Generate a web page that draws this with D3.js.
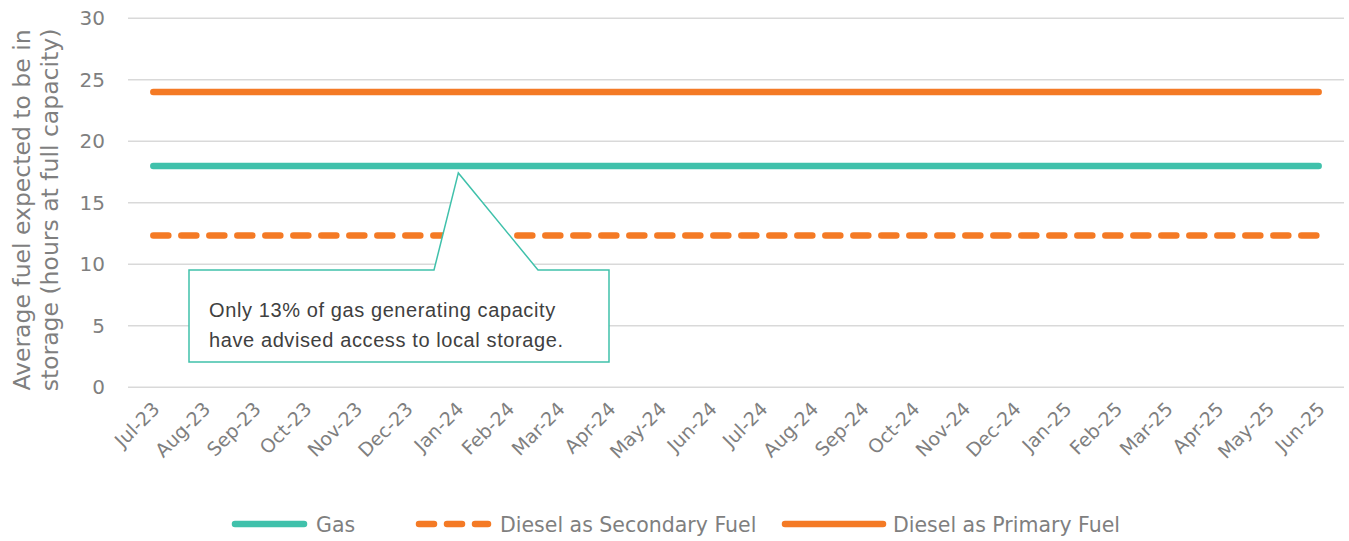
<!DOCTYPE html>
<html><head><meta charset="utf-8">
<script src="https://cdn.jsdelivr.net/npm/d3@7"></script>
<style>body{margin:0;background:#fff;} svg{display:block;}</style>
</head><body>
<svg id="chart" width="1349" height="541"></svg>
<script>
const months = ["Jul-23","Aug-23","Sep-23","Oct-23","Nov-23","Dec-23","Jan-24","Feb-24","Mar-24","Apr-24","May-24","Jun-24","Jul-24","Aug-24","Sep-24","Oct-24","Nov-24","Dec-24","Jan-25","Feb-25","Mar-25","Apr-25","May-25","Jun-25"];
const gas = [18,18,18,18,18,18,18,18,18,18,18,18,18,18,18,18,18,18,18,18,18,18,18,18];
const dieselSecondary = [12.35,12.35,12.35,12.35,12.35,12.35,12.35,12.35,12.35,12.35,12.35,12.35,12.35,12.35,12.35,12.35,12.35,12.35,12.35,12.35,12.35,12.35,12.35,12.35];
const dieselPrimary = [24,24,24,24,24,24,24,24,24,24,24,24,24,24,24,24,24,24,24,24,24,24,24,24];
const yTicks = [0,5,10,15,20,25,30];
const seriesNames = ["Gas","Diesel as Secondary Fuel","Diesel as Primary Fuel"];
const annotationLines = ["Only 13% of gas generating capacity","have advised access to local storage."];
const annotationTarget = "Jan-24";

const TEAL = "#40c1ab", ORANGE = "#f47a25", GREY = "#7f7f7f";
const series = [
  {name: seriesNames[0], values: gas, color: TEAL, dash: null},
  {name: seriesNames[1], values: dieselSecondary, color: ORANGE, dash: "15,13"},
  {name: seriesNames[2], values: dieselPrimary, color: ORANGE, dash: null}
];

const svg = d3.select("#chart");
const L = 128, R = 1344, T = 18.3, B = 387.3;
const x = d3.scalePoint().domain(months).range([L, R]).padding(0.5);
const y = d3.scaleLinear().domain([0, 30]).range([B, T]);
const FONT = "'DejaVu Sans', sans-serif";

// gridlines
svg.append("g").selectAll("line").data(yTicks).join("line")
  .attr("x1", L).attr("x2", R)
  .attr("y1", d => y(d)).attr("y2", d => y(d))
  .attr("stroke", "#d9d9d9").attr("stroke-width", 1.5);

// y axis
const yAxis = svg.append("g").attr("transform", `translate(${L},0)`)
  .call(d3.axisLeft(y).tickValues(yTicks).tickSize(0).tickPadding(23));
yAxis.select(".domain").remove();
yAxis.selectAll("text").attr("font-family", FONT).attr("font-size", 20).attr("fill", GREY);

// x axis
const xAxis = svg.append("g").attr("transform", `translate(0,${B})`)
  .call(d3.axisBottom(x).tickSize(0).tickPadding(0));
xAxis.select(".domain").remove();
xAxis.selectAll("text")
  .attr("font-family", FONT).attr("font-size", 19).attr("fill", GREY)
  .attr("text-anchor", "end").attr("dy", 0).attr("y", 0)
  .attr("transform", "translate(7,23) rotate(-45)");

// y title
const yt = svg.append("text").attr("transform", `translate(30,210) rotate(-90)`)
  .attr("text-anchor", "middle").attr("font-family", FONT).attr("font-size", 23.5).attr("fill", GREY);
yt.append("tspan").attr("x", 0).attr("dy", 0).text("Average fuel expected to be in");
yt.append("tspan").attr("x", 0).attr("dy", 28).text("storage (hours at full capacity)");

// lines
const line = d3.line().x((d, i) => x(months[i])).y(d => y(d));
series.forEach(s => {
  svg.append("path").datum(s.values)
    .attr("d", line).attr("fill", "none")
    .attr("stroke", s.color).attr("stroke-width", 6.5)
    .attr("stroke-linecap", "round")
    .attr("stroke-dasharray", s.dash);
});

// annotation callout
const tipX = x(annotationTarget) + 1, tipY = y(gas[months.indexOf(annotationTarget)]) + 7;
const bx0 = 189, bx1 = 609, by0 = 270, by1 = 362;
const callout = [[bx0,by0],[434,by0],[tipX,tipY],[538,by0],[bx1,by0],[bx1,by1],[bx0,by1]];
svg.append("path").attr("d", d3.line()(callout) + "Z")
  .attr("fill", "#fff").attr("stroke", TEAL).attr("stroke-width", 1.5);
svg.append("clipPath").attr("id", "annClip").append("rect")
  .attr("x", bx0).attr("y", by0).attr("width", bx1 - bx0).attr("height", 81);
svg.append("g").attr("clip-path", "url(#annClip)")
  .selectAll("text").data(annotationLines).join("text")
  .attr("x", 209).attr("y", (d, i) => 317 + i * 30)
  .attr("font-family", "'Liberation Sans', Arial, sans-serif").attr("font-size", 20)
  .attr("letter-spacing", 0.6)
  .attr("fill", "#404040").text(d => d);

// legend
const legendItems = [
  {s: series[0], x0: 232, x1: 307, tx: 316},
  {s: series[1], x0: 416, x1: 491, tx: 500},
  {s: series[2], x0: 782, x1: 886, tx: 893}
];
const ly = 524;
legendItems.forEach(it => {
  svg.append("line").attr("x1", it.x0 + 3).attr("x2", it.x1 - 3).attr("y1", ly).attr("y2", ly)
    .attr("stroke", it.s.color).attr("stroke-width", 6.5).attr("stroke-linecap", "round")
    .attr("stroke-dasharray", it.s.dash ? "15,13" : null);
  svg.append("text").attr("x", it.tx).attr("y", ly + 7.5)
    .attr("font-family", FONT).attr("font-size", 20.5).attr("fill", GREY)
    .text(it.s.name);
});
</script>
</body></html>
